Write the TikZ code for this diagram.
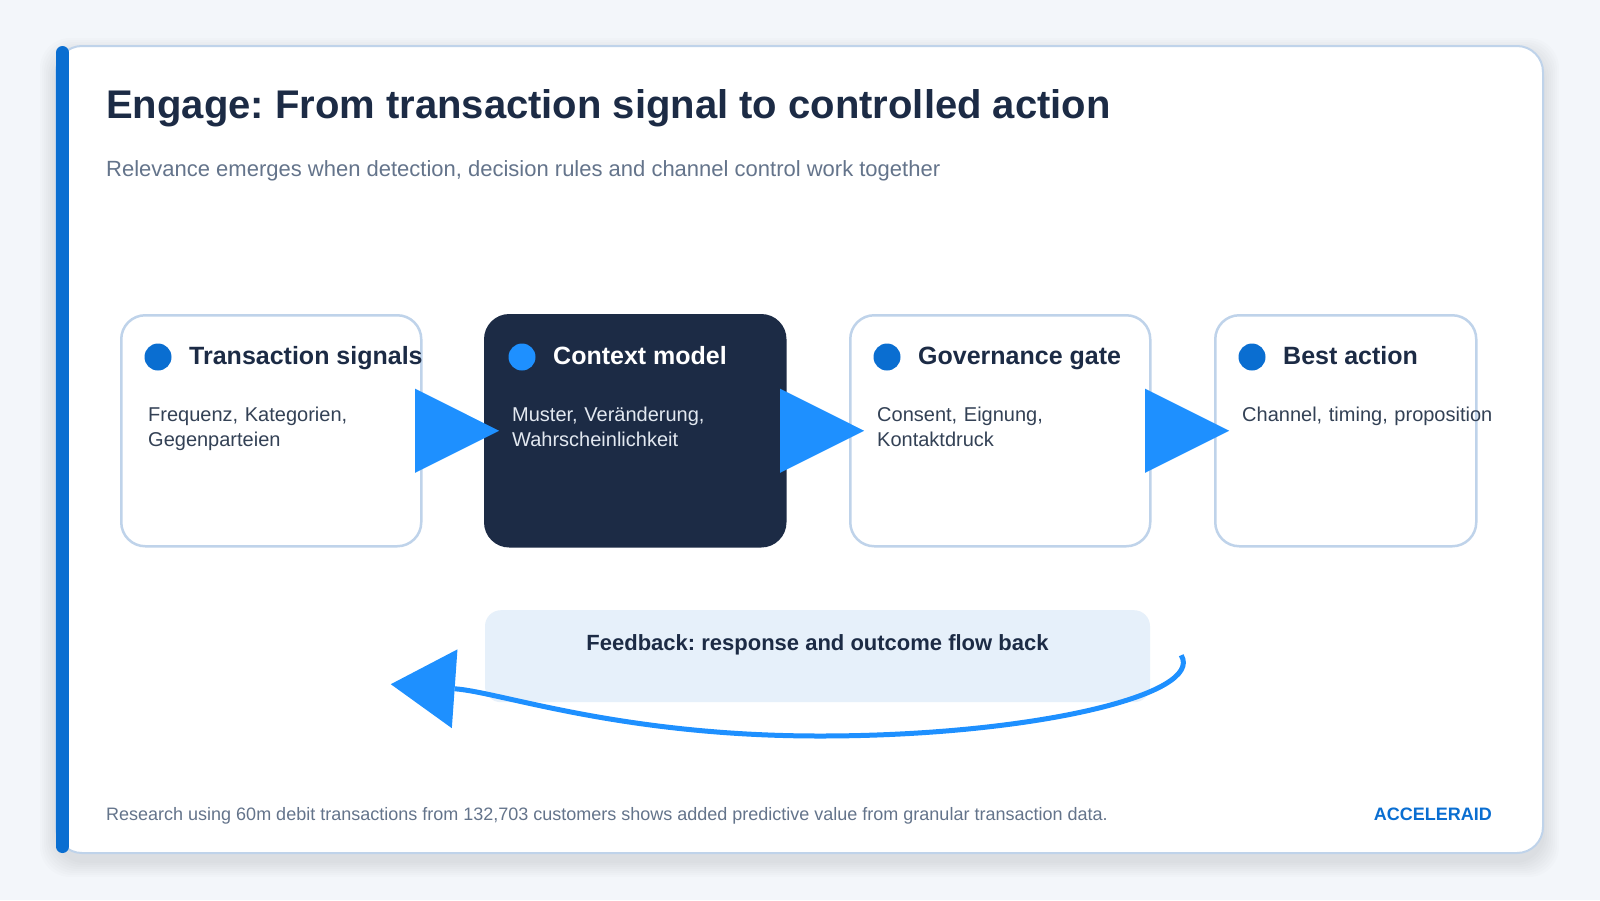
\documentclass[tikz,border=0pt]{standalone}
\usepackage{fontspec}
\setmainfont{Liberation Sans}
\usetikzlibrary{arrows.meta,positioning,calc}
\definecolor{pagebg}{HTML}{F3F6FA}
\definecolor{cardline}{HTML}{BFD3EA}
\definecolor{accent}{HTML}{0A6ED1}
\definecolor{flow}{HTML}{1E90FF}
\definecolor{navy}{HTML}{1C2B45}
\definecolor{slate}{HTML}{64748B}
\definecolor{bodytext}{HTML}{334155}
\definecolor{darktext}{HTML}{E2E8F0}
\definecolor{fbfill}{HTML}{E6F0FA}
\frenchspacing
\begin{document}
\begin{tikzpicture}[x=1pt,y=-1pt,
    box/.style={draw=cardline,line width=2.5pt,fill=white,rounded corners=24pt,minimum width=300pt,minimum height=231pt,anchor=north west,inner sep=0pt},
    darkbox/.style={box,draw=navy,fill=navy},
    dot/.style={circle,fill=accent,minimum size=27pt,inner sep=0pt},
    head/.style={anchor=base west,inner sep=0pt,text=navy,font=\fontsize{25}{29}\selectfont\bfseries},
    body/.style={anchor=base west,inner sep=0pt,text=bodytext,text width=330pt,align=left,font=\fontsize{20}{25.5}\selectfont},
    flowtip/.style={flow,line width=0.1pt,-{Triangle[length=84pt,width=84pt]},shorten >=-15pt},
    fbbox/.style={fill=fbfill,rounded corners=16pt,inner sep=0pt,minimum width=665pt,text height=40pt,text depth=52pt,anchor=north,text=navy,font=\fontsize{22}{26}\selectfont\bfseries},
    back/.style={flow,line width=5pt,-{Triangle[length=64pt,width=79pt,line width=0pt]}}]
    \fill[pagebg] (0,0) rectangle (1600,900);
    \useasboundingbox (0,0) rectangle (1600,900);
    \foreach \s in {1,...,8}
        \fill[black,opacity=0.012,rounded corners=30pt] (56-2*\s,54-2*\s) rectangle (1543+2*\s,861+2*\s);
    \draw[draw=cardline,line width=2pt,fill=white,rounded corners=26pt] (56,46) rectangle (1543,853);
    \draw[accent,line width=13pt,line cap=round] (62.5,52.5) -- (62.5,846.5);

    \node[anchor=base west,inner sep=0pt,text=navy,font=\fontsize{40}{45}\selectfont\bfseries] (title) at (106,118) {Engage: From transaction signal to controlled action};
    \node[anchor=base west,inner sep=0pt,text=slate,font=\fontsize{22}{26}\selectfont] (subtitle) at (106,176) {Relevance emerges when detection, decision rules and channel control work together};

    \node[box] (sig) at (120,314) {};
    \node[darkbox] (ctx) at (484,314) {};
    \node[box] (gov) at (849,314) {};
    \node[box,minimum width=261pt] (act) at (1214,314) {};

    \node[dot] (sigdot) at ($(sig.north west)+(38,43)$) {};
    \node[head] (sighead) at ($(sig.north west)+(69,50)$) {Transaction signals};
    \node[body] (sigbody) at ($(sig.north west)+(28,107)$) {Frequenz, Kategorien,\\Gegenparteien};
    \node[dot,fill=flow] (ctxdot) at ($(ctx.north west)+(38,43)$) {};
    \node[head,text=white] (ctxhead) at ($(ctx.north west)+(69,50)$) {Context model};
    \node[body,text=darktext] (ctxbody) at ($(ctx.north west)+(28,107)$) {Muster, Veränderung,\\Wahrscheinlichkeit};
    \node[dot] (govdot) at ($(gov.north west)+(38,43)$) {};
    \node[head] (govhead) at ($(gov.north west)+(69,50)$) {Governance gate};
    \node[body] (govbody) at ($(gov.north west)+(28,107)$) {Consent, Eignung,\\Kontaktdruck};
    \node[dot] (actdot) at ($(act.north west)+(38,43)$) {};
    \node[head] (acthead) at ($(act.north west)+(69,50)$) {Best action};
    \node[body] (actbody) at ($(act.north west)+(28,107)$) {Channel, timing, proposition};

    \draw[flowtip] (sig.east) -- (ctx.west);
    \draw[flowtip] (ctx.east) -- (gov.west);
    \draw[flowtip] (gov.east) -- (act.west);

    \node[fbbox] (fb) at (817.5,610) {Feedback: response and outcome flow back};
    \coordinate (fbout) at ($(fb.east)+(31,-1)$);
    \coordinate (fbend) at ($(fb.west)+(-94,28)$);
    \draw[back] (fbout) .. controls (1205,695) and (1030,736) .. (820,736) .. controls (620,736) and (500,692) .. (fbend);

    \node[anchor=base west,inner sep=0pt,text=slate,font=\fontsize{18}{22}\selectfont] (note) at (106,820) {Research using 60m debit transactions from 132,703 customers shows added predictive value from granular transaction data.};
    \node[anchor=base east,inner sep=0pt,text=accent,font=\fontsize{18}{22}\selectfont\bfseries] (brand) at (1492,820) {ACCELERAID};
\end{tikzpicture}
\end{document}
